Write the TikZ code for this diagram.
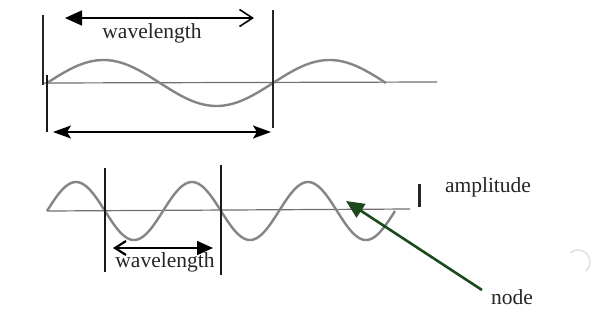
\documentclass[tikz,border=0pt]{standalone}
\usepackage{fontspec}
\setmainfont{Liberation Serif}
\usetikzlibrary{arrows.meta}
\definecolor{wavegray}{HTML}{858585}
\definecolor{axisgray}{HTML}{707070}
\definecolor{nodegreen}{HTML}{1C4A1C}
\tikzset{
  wave/.style={draw=wavegray, line width=2.4pt},
  axisline/.style={draw=axisgray, line width=1.2pt},
  thinbar/.style={draw=black!85, line width=1.3pt},
  thickbar/.style={draw=black!90, line width=2.8pt},
  dimarrow/.style={draw=black, line width=1.6pt},
  lbl/.style={font=\fontsize{21.5}{25}\selectfont, text=black!85, inner sep=0pt},
}
\begin{document}
\begin{tikzpicture}[x=1pt,y=-1pt]
\useasboundingbox (0,0) rectangle (616,335);
\fill[white] (0,0) rectangle (616,335);

% ---------- top diagram ----------
\coordinate (ta1) at (43,83);
\coordinate (ta2) at (437,82);
\draw[axisline] (ta1) -- (ta2);
\draw[wave] plot[domain=0:540, samples=120, smooth] ({47+\x/360*226},{83-23*sin(\x)});

\coordinate (tl1) at (43,15);
\coordinate (tl2) at (43,85);
\draw[thinbar] (tl1) -- (tl2);
\coordinate (tk1) at (47,75);
\coordinate (tk2) at (47,132);
\draw[thickbar] (tk1) -- (tk2);
\coordinate (tr1) at (273,10);
\coordinate (tr2) at (273,128);
\draw[thinbar] (tr1) -- (tr2);

\coordinate (tw1) at (65,18);
\coordinate (tw2) at (254,18);
\draw[dimarrow, {Triangle[length=17pt,width=15pt]}-{Straight Barb[length=13pt,width=17pt,line width=1.6pt]}] (tw1) -- (tw2);
\node[lbl] (wl1) at (152,33) {wavelength};

\coordinate (tb1) at (53,132);
\coordinate (tb2) at (271,132);
\draw[dimarrow, {Stealth[length=18pt,width=13pt,inset=4pt]}-{Stealth[length=18pt,width=13pt,inset=4pt]}] (tb1) -- (tb2);

% ---------- bottom diagram ----------
\coordinate (ba1) at (47,211);
\coordinate (ba2) at (410,209);
\draw[axisline] (ba1) -- (ba2);
\draw[wave] plot[domain=0:1080, samples=220, smooth] ({47+\x/360*116},{211-29*sin(\x)});

\coordinate (bl1) at (105,168);
\coordinate (bl2) at (105,272);
\draw[thickbar] (bl1) -- (bl2);
\coordinate (br1) at (221,165);
\coordinate (br2) at (221,275);
\draw[thickbar] (br1) -- (br2);

\coordinate (bw1) at (113,248);
\coordinate (bw2) at (213,248);
\draw[dimarrow, {Straight Barb[length=11pt,width=14pt,line width=2.2pt]}-{Triangle[length=16pt,width=14pt]}] (bw1) -- (bw2);
\node[lbl] (wl2) at (165,262) {wavelength};

\coordinate (am1) at (419,184);
\coordinate (am2) at (419,207);
\draw[draw=black!85, line width=3pt] (am1) -- (am2);
\node[lbl] (amp) at (488,187) {amplitude};

\node[lbl] (nd) at (512,297) {node};
\coordinate (ntail) at (482,290);
\coordinate (ntip) at (346,201);
\draw[draw=nodegreen, line width=2.6pt, -{Triangle[length=18pt,width=16pt]}] (ntail) -- (ntip);

% faint arc on the right
\draw[draw=black!12, line width=1.5pt] (578,262) ++(50:12) arc[start angle=50, end angle=-130, radius=12];
\end{tikzpicture}
\end{document}
